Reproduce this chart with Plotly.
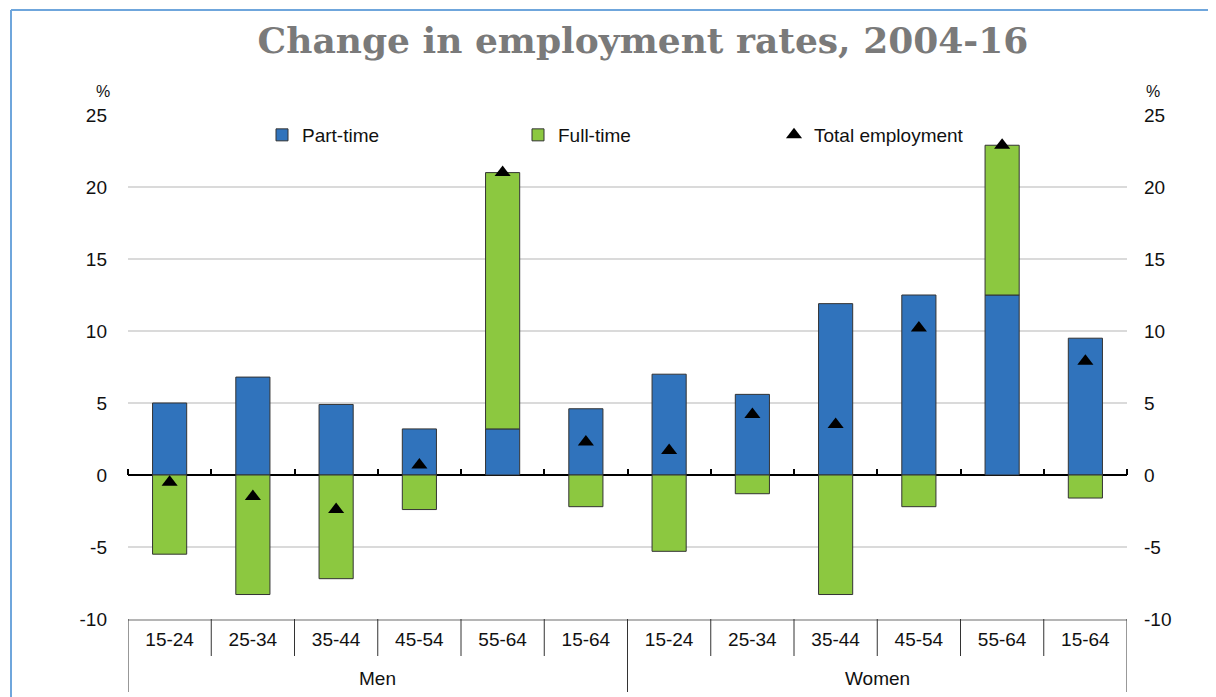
import plotly.graph_objects as go

groups = ["Men", "Women"]
ages = ["15-24", "25-34", "35-44", "45-54", "55-64", "15-64"]
categories = [f"{g} {a}" for g in groups for a in ages]
age_labels = ages * 2

part_time = [5.0, 6.8, 4.9, 3.2, 3.2, 4.6, 7.0, 5.6, 11.9, 12.5, 12.5, 9.5]
full_time = [-5.5, -8.3, -7.2, -2.4, 17.8, -2.2, -5.3, -1.3, -8.3, -2.2, 10.4, -1.6]
total_emp = [-0.5, -1.5, -2.4, 0.7, 21.0, 2.3, 1.7, 4.2, 3.5, 10.2, 22.9, 7.9]

y_ticks = [-10, -5, 0, 5, 10, 15, 20, 25]
y_tick_text = ["-10", "-5", "0", "5", "10", "15", "20", "25"]

BLUE = "#3073bc"
GREEN = "#8cc840"
FONT = "Liberation Sans"

n = len(categories)
boundaries = [i - 0.5 for i in range(n + 1)]

# page has an 8px body margin; lay out in page pixels
OFF = 8
PAGE_W, PAGE_H = 1216, 697
W, H = PAGE_W - OFF, PAGE_H - OFF
PL, PR, PT, PB = 128, 1127, 115, 619  # plot area in page pixels
L, T = PL - OFF, PT - OFF
R = W - (PR - OFF)
B = H - (PB - OFF)
pw = PR - PL
ph = PB - PT


def px_x(p):
    return (p - PL) / pw


def px_y(p):
    return (PB - p) / ph


fig = go.Figure()
fig.add_trace(go.Bar(x=categories, y=part_time, name="Part-time",
                     marker=dict(color=BLUE, line=dict(color="#333333", width=1)), width=0.41))
fig.add_trace(go.Bar(x=categories, y=full_time, name="Full-time",
                     marker=dict(color=GREEN, line=dict(color="#333333", width=1)), width=0.41))
fig.add_trace(go.Scatter(x=categories, y=total_emp, name="Total employment", mode="markers",
                         marker=dict(symbol="triangle-up", size=14, color="black")))
# helper trace so the zero-line tick axis and the right axis are rendered
fig.add_trace(go.Scatter(x=[], y=[], xaxis="x2", yaxis="y2", showlegend=False, hoverinfo="skip"))

fig.update_layout(
    width=W, height=H,
    margin=dict(l=L, r=R, t=T, b=B),
    paper_bgcolor="white", plot_bgcolor="white",
    barmode="relative",
    font=dict(family=FONT, size=19, color="#111111"),
    title=dict(text="<b>Change in employment rates, 2004-16</b>", x=(643 - OFF) / W, xanchor="center",
               xref="container", y=1 - (40 - OFF) / H, yanchor="middle", yref="container",
               font=dict(family="DejaVu Serif", size=36, color="#7a7a7a")),
    legend=dict(orientation="h", x=px_x(262), y=px_y(135), xanchor="left", yanchor="middle",
                entrywidth=211, entrywidthmode="pixels", bgcolor="rgba(0,0,0,0)",
                font=dict(family=FONT, size=19), traceorder="normal"),
    xaxis=dict(type="category", range=[-0.5, n - 0.5], tickvals=categories, ticktext=age_labels,
               showline=True, linecolor="#b5b5b5", linewidth=1.5, ticks="", ticklabelstandoff=2,
               showgrid=False, automargin=False, tickfont=dict(family=FONT, size=19)),
    xaxis2=dict(overlaying="x", anchor="free", position=px_y(475), side="top",
                range=[-0.5, n - 0.5], tickvals=boundaries, ticks="outside", ticklen=6, tickwidth=1.5,
                tickcolor="black", showticklabels=False, showgrid=False, showline=False, zeroline=False,
                automargin=False),
    yaxis=dict(range=[-10, 25], tickvals=y_ticks, ticktext=y_tick_text, showgrid=True, gridcolor="#dadada",
               gridwidth=1.5, zeroline=True, zerolinecolor="black", zerolinewidth=2, showline=False,
               ticks="", ticklabelstandoff=20, automargin=False, tickfont=dict(family=FONT, size=19)),
    yaxis2=dict(overlaying="y", side="right", anchor="x", range=[-10, 25], tickvals=y_ticks,
                ticktext=y_tick_text, showgrid=False, zeroline=False, showline=False, ticks="",
                ticklabelstandoff=16, automargin=False, tickfont=dict(family=FONT, size=19)),
)

# category box dividers below the plot
for i, b in enumerate(boundaries):
    outer = i in (0, 6, n)
    fig.add_shape(type="line", xref="x", yref="paper", x0=b, x1=b, y0=px_y(619), y1=px_y(692 if outer else 656),
                  line=dict(color="#333333", width=1))

fig.add_annotation(text="Men", x=2.5, y=px_y(678), xref="x", yref="paper", showarrow=False,
                   font=dict(family=FONT, size=19), xanchor="center", yanchor="middle")
fig.add_annotation(text="Women", x=8.5, y=px_y(678), xref="x", yref="paper", showarrow=False,
                   font=dict(family=FONT, size=19), xanchor="center", yanchor="middle")

fig.add_annotation(text="%", x=px_x(103), y=px_y(92), xref="paper", yref="paper", showarrow=False,
                   font=dict(family=FONT, size=16), xanchor="center", yanchor="middle")
fig.add_annotation(text="%", x=px_x(1153), y=px_y(92), xref="paper", yref="paper", showarrow=False,
                   font=dict(family=FONT, size=16), xanchor="center", yanchor="middle")

frame = "#6fa6dc"
fig.add_shape(type="line", xref="paper", yref="paper", x0=px_x(11), x1=px_x(1216), y0=px_y(10), y1=px_y(10),
              line=dict(color=frame, width=2))
fig.add_shape(type="line", xref="paper", yref="paper", x0=px_x(11), x1=px_x(11), y0=px_y(10), y1=px_y(697),
              line=dict(color=frame, width=2))

fig.write_html("out.html")
